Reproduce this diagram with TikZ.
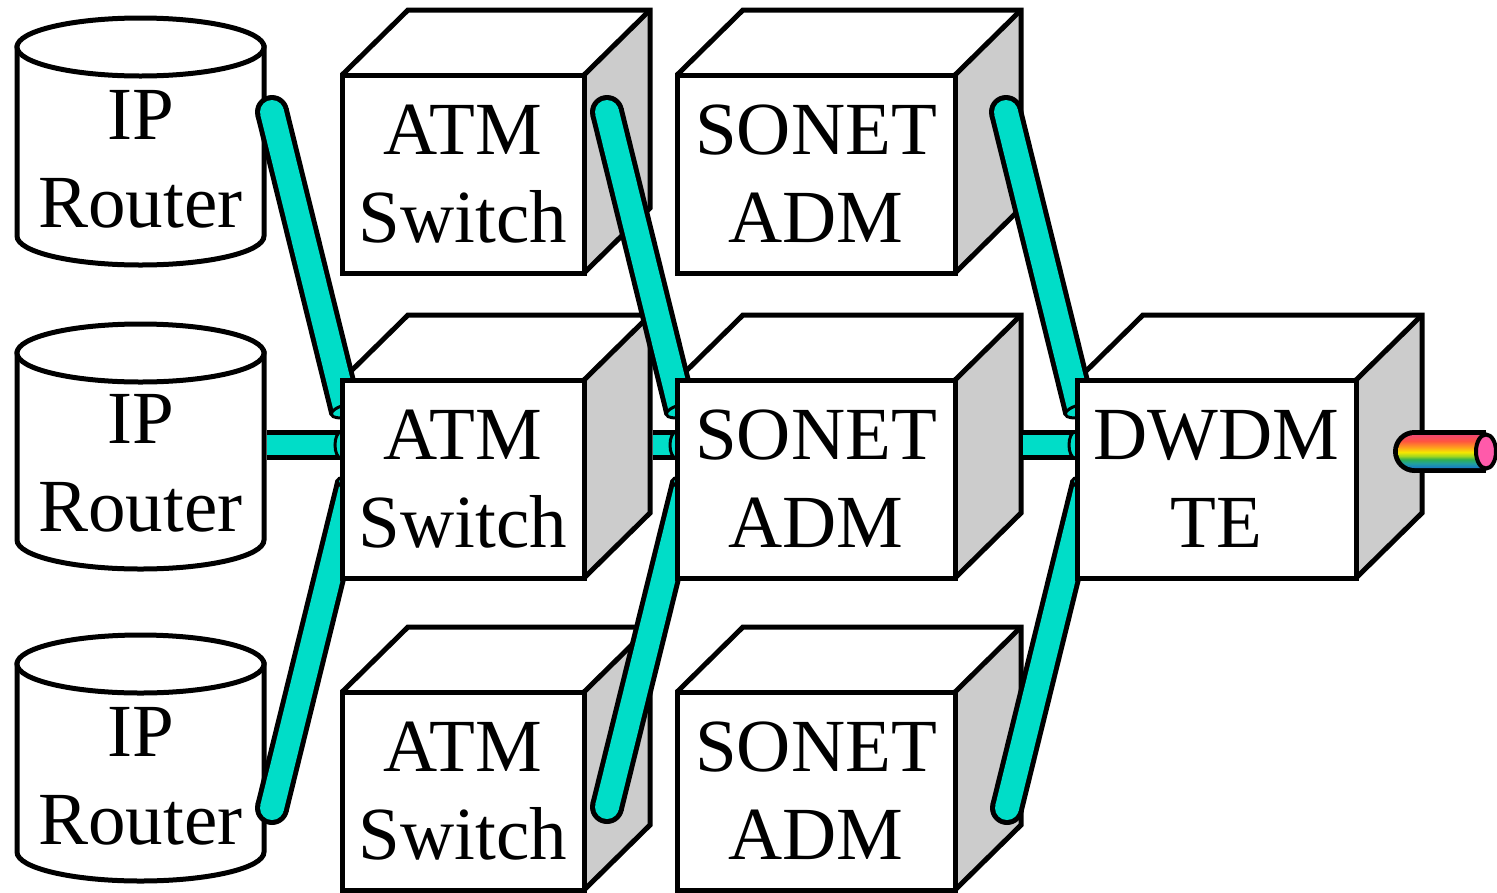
\documentclass[tikz,border=0pt]{standalone}
\usepackage{fontspec}
\setmainfont{Liberation Serif}
\usetikzlibrary{shapes.geometric}
\pgfdeclarelayer{back}
\pgfdeclarelayer{mid}
\pgfsetlayers{back,mid,main}
\definecolor{tealc}{RGB}{0,221,200}
\definecolor{facegrey}{RGB}{204,204,204}
\definecolor{pinkend}{RGB}{255,90,170}
\definecolor{rbpink}{RGB}{242,72,112}
\definecolor{rbred}{RGB}{255,84,64}
\definecolor{rborange}{RGB}{255,154,32}
\definecolor{rbyellow}{RGB}{246,232,0}
\definecolor{rblime}{RGB}{160,214,32}
\definecolor{rbgreen}{RGB}{48,176,80}
\definecolor{rbteal}{RGB}{32,160,160}
\definecolor{rbblue}{RGB}{24,120,200}
\pgfdeclareverticalshading{rainbow}{100bp}{color(0bp)=(rbblue); color(25bp)=(rbblue); color(32bp)=(rbteal); color(38bp)=(rbgreen); color(43bp)=(rblime); color(49bp)=(rbyellow); color(57bp)=(rborange); color(66bp)=(rbred); color(75bp)=(rbpink); color(100bp)=(rbpink)}
\newcommand\bigtxt{\fontsize{75pt}{88pt}\selectfont}
\tikzset{
  outl/.style={line width=5pt, draw=black, line join=miter},
  front/.style={rectangle, draw=black, line width=5pt, fill=white, inner sep=0pt, outer sep=0pt, align=center, font=\bigtxt},
  cyltext/.style={inner sep=0pt, align=center, font=\bigtxt},
  endcap/.style={ellipse, draw=black, line width=3pt, fill=tealc, inner sep=0pt, outer sep=0pt, minimum width=12pt},
}
\newcommand\cubefaces[1]{%
  \begin{pgfonlayer}{back}
  \coordinate (#1tl) at ([shift={(66pt,65pt)}]#1.north west);
  \coordinate (#1tr) at ([shift={(66pt,65pt)}]#1.north east);
  \coordinate (#1br) at ([shift={(66pt,65pt)}]#1.south east);
  \fill[white] (#1.north west) -- (#1tl) -- (#1tr) -- (#1.north east) -- cycle;
  \fill[facegrey] (#1.north east) -- (#1tr) -- (#1br) -- (#1.south east) -- cycle;
  \draw[outl] (#1.north west) -- (#1tl) -- (#1tr) -- (#1br) -- (#1.south east);
  \draw[outl] (#1.north east) -- (#1tr);
  \end{pgfonlayer}}
\newcommand\cyl[2]{%
  \begin{pgfonlayer}{back}
  \draw[outl, fill=white] (17,{#1+29}) -- (17,{#2-29}) arc[start angle=180,end angle=360,x radius=123.5pt,y radius=29pt] -- (264,{#1+29}) -- cycle;
  \draw[outl, fill=white] (140.5,{#1+29}) ellipse[x radius=123.5pt, y radius=29pt];
  \end{pgfonlayer}}
\newcommand\slanttube[3]{%
  \begin{pgfonlayer}{mid}
  \draw[line width=34pt] (#1) -- (#2);
  \fill (#1) circle[radius=17pt];
  \draw[line width=24pt, tealc] (#1) -- (#2);
  \fill[tealc] (#1) circle[radius=12pt];
  \path (#1) -- (#2) node[endcap, pos=1, sloped, minimum height=30pt] (#3) {};
  \end{pgfonlayer}}
\newcommand\flattube[3]{%
  \begin{pgfonlayer}{mid}
  \draw[line width=30pt] (#1) -- (#2);
  \draw[line width=20pt, tealc] (#1) -- (#2);
  \path (#1) -- (#2) node[endcap, pos=1, sloped, minimum height=26pt] (#3) {};
  \end{pgfonlayer}}
\begin{document}
\begin{tikzpicture}[x=1pt, y=-1pt]
\useasboundingbox (0,0) rectangle (1497,892);
% cylinders
\cyl{18}{265}
\cyl{324}{569}
\cyl{635}{881}
\node[cyltext] (ip1) at (140.5,159.5) {IP\\Router};
\node[cyltext] (ip2) at (140.5,463) {IP\\Router};
\node[cyltext] (ip3) at (140.5,776.5) {IP\\Router};
% cubes
\node[front, minimum width=242pt, minimum height=198pt] (atm1) at (463,174) {ATM\\Switch};
\node[front, minimum width=242pt, minimum height=198pt] (atm2) at (463,479) {ATM\\Switch};
\node[front, minimum width=242pt, minimum height=198pt] (atm3) at (463,791) {ATM\\Switch};
\node[front, minimum width=278pt, minimum height=198pt] (son1) at (816,174) {SONET\\ADM};
\node[front, minimum width=278pt, minimum height=198pt] (son2) at (816,479) {SONET\\ADM};
\node[front, minimum width=278pt, minimum height=198pt] (son3) at (816,791) {SONET\\ADM};
\node[front, minimum width=279pt, minimum height=198pt] (dwdm) at (1216.5,479) {DWDM\\TE};
\cubefaces{atm1}\cubefaces{atm2}\cubefaces{atm3}
\cubefaces{son1}\cubefaces{son2}\cubefaces{son3}
\cubefaces{dwdm}
% tube end points
\coordinate (a1) at (272,112);   \coordinate (b1) at (346,411);
\coordinate (a2) at (266.5,445); \coordinate (b2) at (341,445);
\coordinate (a3) at (272,808);   \coordinate (b3) at (352,484);
\coordinate (a4) at (607,112);   \coordinate (b4) at (681,411);
\coordinate (a5) at (652.5,445); \coordinate (b5) at (676,445);
\coordinate (a6) at (607,807);   \coordinate (b6) at (687,484);
\coordinate (a7) at (1006,112);  \coordinate (b7) at (1080,411);
\coordinate (a8) at (1022.5,445);\coordinate (b8) at (1075,445);
\coordinate (a9) at (1007,808);  \coordinate (b9) at (1087,484);
\slanttube{a1}{b1}{c1}
\flattube{a2}{b2}{c2}
\slanttube{a3}{b3}{c3}
\slanttube{a4}{b4}{c4}
\flattube{a5}{b5}{c5}
\slanttube{a6}{b6}{c6}
\slanttube{a7}{b7}{c7}
\flattube{a8}{b8}{c8}
\slanttube{a9}{b9}{c9}
% rainbow fibre
\coordinate (rbA) at (1414.5,451.5);
\coordinate (rbB) at (1486,451.5);
\begin{pgfonlayer}{mid}
\draw[line width=43pt] (rbA) -- (rbB);
\fill (rbA) circle[radius=21.5pt];
\shade[shading=rainbow] ([yshift=16.5pt]rbB) -- ([yshift=16.5pt]rbA) arc[start angle=90,end angle=270,radius=16.5pt] -- ([yshift=-16.5pt]rbB) -- cycle;
\node[ellipse, draw=black, line width=4pt, fill=pinkend, minimum width=20pt, minimum height=34pt, inner sep=0pt] (rbEnd) at (rbB) {};
\end{pgfonlayer}
\end{tikzpicture}
\end{document}
